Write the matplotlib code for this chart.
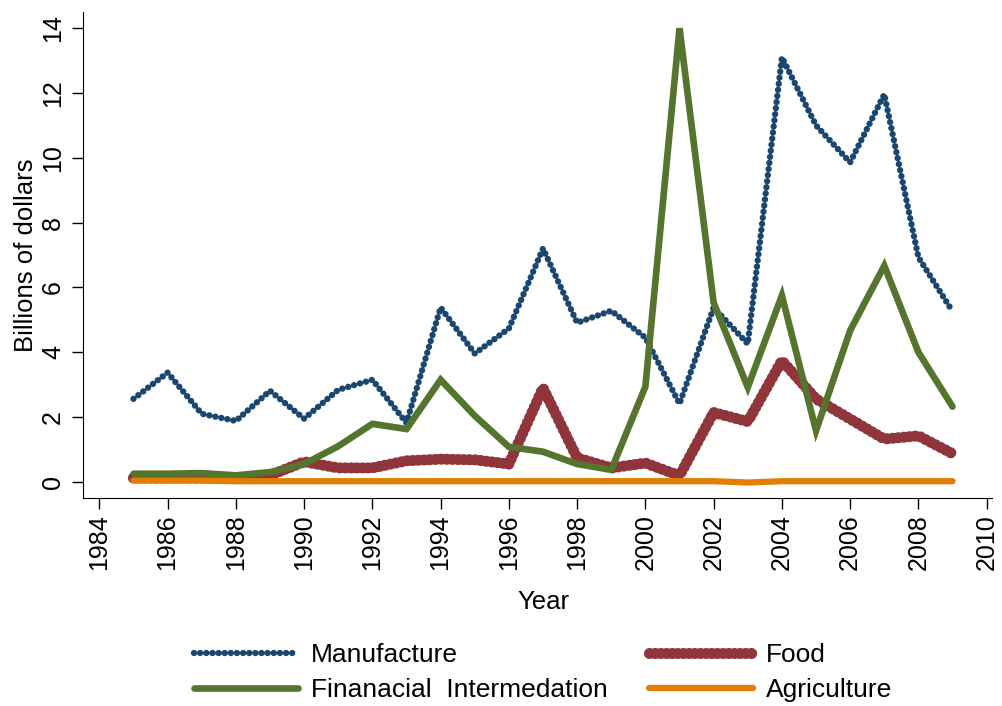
import matplotlib
matplotlib.use("Agg")
from matplotlib import pyplot as plt

plt.rcParams['font.family'] = ['Liberation Sans', 'DejaVu Sans']

years = list(range(1985, 2010))

manufacture = [2.56, 3.37, 2.10, 1.88, 2.81, 1.95, 2.84, 3.15, 1.82, 5.38,
               3.96, 4.73, 7.20, 4.91, 5.28, 4.45, 2.41, 5.38, 4.26, 13.10,
               11.00, 9.86, 11.96, 6.93, 5.26]
food = [0.12, 0.12, 0.12, 0.10, 0.20, 0.62, 0.43, 0.43, 0.65, 0.70,
        0.68, 0.55, 2.90, 0.74, 0.43, 0.58, 0.19, 2.14, 1.86, 3.74,
        2.56, 1.94, 1.32, 1.42, 0.87]
financial = [0.25, 0.25, 0.27, 0.20, 0.30, 0.55, 1.10, 1.79, 1.63, 3.15,
             2.04, 1.08, 0.93, 0.55, 0.37, 2.94, 14.00, 5.53, 2.92, 5.75,
             1.58, 4.67, 6.67, 4.00, 2.32]
agriculture = [0.04, 0.04, 0.04, 0.02, 0.02, 0.02, 0.02, 0.02, 0.02, 0.02,
               0.02, 0.02, 0.02, 0.02, 0.02, 0.02, 0.02, 0.02, -0.02, 0.02,
               0.02, 0.02, 0.02, 0.02, 0.02]

navy = '#1a476f'
maroon = '#90353b'
green = '#55752f'
orange = '#e37e00'

fig = plt.figure(figsize=(10.02, 7.06), dpi=100)
ax = fig.add_axes([0.0828, 0.295, 0.907, 0.688])

l1, = ax.plot(years, manufacture, color=navy, lw=4.6, linestyle=(0, (0.01, 0.95)),
              dash_capstyle='round', label='Manufacture')
l2, = ax.plot(years, food, color=maroon, lw=8, linestyle=(0, (0.01, 0.5)),
              dash_capstyle='round', label='Food')
l3, = ax.plot(years, financial, color=green, lw=4.8, solid_capstyle='round',
              solid_joinstyle='miter', label='Finanacial  Intermedation')
l4, = ax.plot(years, agriculture, color=orange, lw=4.5, solid_capstyle='round',
              label='Agriculture')

ax.set_xlim(1983.52, 2010.15)
ax.set_ylim(-0.49, 14.5)
ax.set_xticks(range(1984, 2011, 2))
ax.set_yticks(range(0, 15, 2))
ax.spines['top'].set_visible(False)
ax.spines['right'].set_visible(False)
ax.tick_params(axis='both', labelsize=18, length=8, width=1, direction='out')
ax.tick_params(axis='x', labelrotation=90, pad=4)
ax.tick_params(axis='y', labelrotation=90, pad=5)
for lab in ax.get_yticklabels():
    lab.set_va('center')

ax.set_xlabel('Year', fontsize=18.5)
ax.xaxis.set_label_coords(0.507, -0.189)
ax.set_ylabel('Billions of dollars', fontsize=18.5)
ax.yaxis.set_label_coords(-0.05, 0.5)

# stata fills the legend row by row, matplotlib column by column
fig.legend(handles=[l1, l3, l2, l4], ncol=2, loc='center',
           bbox_to_anchor=(543 / 1002, 1 - 672.5 / 706), frameon=False,
           fontsize=19, handlelength=3.95, handletextpad=0.5,
           columnspacing=1.55, labelspacing=0.42)

fig.savefig('out.png', dpi=100, facecolor='white')
